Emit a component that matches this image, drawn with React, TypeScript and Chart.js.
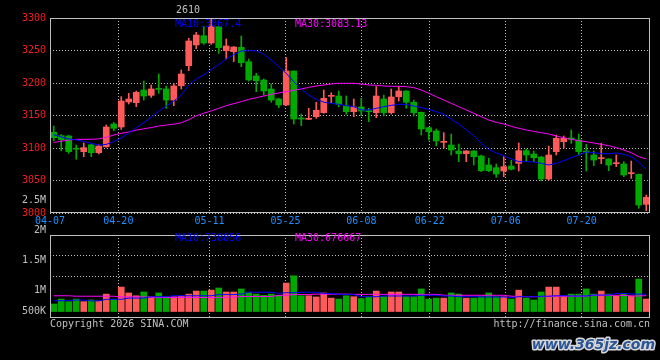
import { useEffect, useRef } from 'react';
import { Chart, registerables } from 'chart.js';

Chart.register(...registerables);

const dates = [
  '04-07','04-08','04-09','04-10','04-13','04-14','04-15','04-16','04-17','04-20',
  '04-21','04-22','04-23','04-24','04-27','04-28','04-29','04-30','05-06','05-07',
  '05-08','05-11','05-12','05-13','05-14','05-15','05-18','05-19','05-20','05-21',
  '05-22','05-25','05-26','05-27','05-28','05-29','06-01','06-02','06-03','06-04',
  '06-05','06-08','06-09','06-10','06-11','06-12','06-15','06-16','06-17','06-18',
  '06-22','06-23','06-24','06-25','06-26','06-29','06-30','07-01','07-02','07-03',
  '07-06','07-07','07-08','07-09','07-10','07-13','07-14','07-15','07-16','07-17',
  '07-20','07-21','07-22','07-23','07-24','07-27','07-28','07-29','07-30','07-31',
];
const tickDates = ['04-07', '04-20', '05-11', '05-25', '06-08', '06-22', '07-06', '07-20'];

const opens = [
  3124.1, 3119.0, 3118.5, 3099.0, 3094.4, 3105.0, 3092.8, 3102.0, 3136.9, 3132.3,
  3170.8, 3169.7, 3189.2, 3181.0, 3190.8, 3190.8, 3173.8, 3195.9, 3226.7, 3258.5,
  3272.8, 3261.5, 3286.7, 3249.7, 3248.2, 3254.9, 3232.8, 3210.8, 3204.6, 3190.8,
  3175.4, 3166.2, 3218.5, 3145.1, 3144.1, 3148.2, 3154.4, 3179.5, 3180.0, 3164.6,
  3155.9, 3163.1, 3156.4, 3154.4, 3175.4, 3154.4, 3179.0, 3187.7, 3170.3, 3154.9,
  3131.3, 3126.2, 3108.7, 3104.6, 3095.4, 3091.3, 3095.4, 3087.7, 3073.8, 3069.7,
  3064.6, 3072.3, 3076.4, 3095.9, 3090.8, 3086.2, 3052.3, 3094.4, 3109.7, 3115.4,
  3112.3, 3094.9, 3089.2, 3083.6, 3083.1, 3075.9, 3075.4, 3060.5, 3059.5, 3013.3,
];
const highs = [
  3133.8, 3120.5, 3119.5, 3104.6, 3107.7, 3106.0, 3105.0, 3135.4, 3139.5, 3179.0,
  3184.1, 3187.7, 3203.1, 3196.9, 3213.8, 3195.4, 3199.5, 3220.0, 3268.7, 3277.9,
  3286.7, 3298.5, 3287.7, 3267.7, 3256.0, 3272.3, 3236.9, 3214.9, 3206.2, 3198.5,
  3176.4, 3239.0, 3218.5, 3152.3, 3161.0, 3170.3, 3189.2, 3185.1, 3187.7, 3180.0,
  3175.4, 3176.4, 3161.0, 3194.4, 3181.5, 3190.8, 3194.4, 3188.2, 3173.8, 3155.4,
  3132.0, 3129.2, 3123.6, 3121.5, 3106.2, 3096.0, 3096.0, 3089.2, 3084.1, 3075.4,
  3086.7, 3081.0, 3107.7, 3098.5, 3095.4, 3087.0, 3103.1, 3120.0, 3118.5, 3127.7,
  3121.5, 3105.6, 3095.4, 3107.2, 3083.6, 3089.2, 3079.0, 3080.0, 3060.0, 3027.7,
];
const lows = [
  3111.0, 3095.9, 3091.8, 3082.6, 3086.7, 3086.7, 3091.0, 3101.0, 3126.7, 3128.7,
  3167.7, 3163.6, 3173.8, 3177.9, 3184.1, 3161.0, 3165.1, 3190.8, 3219.0, 3252.8,
  3259.5, 3259.5, 3245.6, 3237.0, 3232.8, 3225.1, 3203.1, 3186.7, 3181.5, 3170.3,
  3162.1, 3165.1, 3136.9, 3134.4, 3143.6, 3145.6, 3153.4, 3169.7, 3163.6, 3151.8,
  3148.2, 3149.7, 3140.5, 3146.7, 3149.2, 3152.3, 3172.3, 3161.0, 3149.2, 3120.0,
  3112.3, 3103.6, 3099.5, 3089.2, 3079.0, 3079.0, 3073.8, 3063.6, 3063.6, 3054.9,
  3055.9, 3066.2, 3064.6, 3079.0, 3079.0, 3049.2, 3050.8, 3089.2, 3099.5, 3107.2,
  3089.2, 3064.6, 3072.8, 3075.9, 3065.1, 3071.3, 3055.9, 3053.3, 3007.2, 3003.6,
];
const closes = [
  3115.9, 3112.8, 3094.4, 3098.2, 3100.5, 3092.8, 3103.0, 3132.3, 3130.3, 3172.3,
  3175.4, 3185.6, 3180.0, 3190.8, 3190.2, 3173.8, 3195.4, 3213.8, 3264.6, 3273.8,
  3261.5, 3287.7, 3254.4, 3256.9, 3255.4, 3231.3, 3204.6, 3203.6, 3187.7, 3173.8,
  3166.2, 3218.5, 3144.6, 3144.6, 3144.6, 3158.0, 3176.4, 3180.0, 3167.2, 3155.9,
  3163.1, 3156.9, 3155.9, 3180.0, 3154.4, 3178.5, 3187.7, 3170.3, 3154.4, 3129.2,
  3125.1, 3110.8, 3110.3, 3096.9, 3091.3, 3095.4, 3086.7, 3065.1, 3065.1, 3060.0,
  3071.3, 3067.2, 3095.9, 3089.2, 3085.1, 3052.3, 3089.2, 3114.9, 3114.9, 3113.3,
  3094.4, 3093.8, 3081.5, 3084.6, 3073.8, 3077.4, 3058.5, 3062.0, 3012.3, 3024.1,
];
const ma10 = [
  3120.5, 3117.0, 3114.0, 3112.5, 3110.0, 3107.0, 3104.6, 3105.5, 3110.0, 3115.5,
  3123.0, 3131.0, 3139.0, 3148.0, 3156.5, 3164.6, 3172.3, 3181.5, 3196.9, 3206.2,
  3212.3, 3221.0, 3228.5, 3236.9, 3243.5, 3249.2, 3249.7, 3249.7, 3244.1, 3235.4,
  3225.1, 3214.9, 3202.0, 3190.8, 3181.5, 3175.0, 3170.5, 3168.7, 3167.2, 3165.1,
  3163.6, 3158.5, 3158.5, 3161.0, 3163.6, 3165.6, 3167.2, 3167.2, 3164.6, 3162.1,
  3159.5, 3155.9, 3151.8, 3144.1, 3136.9, 3127.7, 3119.0, 3107.2, 3097.9, 3092.3,
  3088.2, 3083.1, 3079.0, 3079.0, 3078.5, 3076.4, 3073.8, 3076.4, 3080.5, 3085.1,
  3089.2, 3093.8, 3092.8, 3091.3, 3091.3, 3092.3, 3090.3, 3086.7, 3077.9, 3067.4,
];
const ma30 = [
  3108.5, 3110.5, 3112.3, 3113.3, 3113.3, 3113.5, 3114.0, 3116.5, 3120.0, 3122.6,
  3124.6, 3127.5, 3129.5, 3131.5, 3133.8, 3135.4, 3136.6, 3138.8, 3143.6, 3149.5,
  3153.5, 3157.0, 3161.0, 3165.1, 3168.2, 3171.3, 3174.9, 3177.4, 3180.0, 3182.6,
  3184.6, 3186.7, 3188.7, 3190.8, 3193.3, 3195.4, 3196.9, 3198.5, 3199.5, 3199.5,
  3199.5, 3198.5, 3196.9, 3196.4, 3195.4, 3194.9, 3194.9, 3194.4, 3192.8, 3189.2,
  3184.1, 3179.0, 3173.8, 3168.7, 3163.6, 3158.5, 3153.3, 3148.2, 3143.1, 3139.5,
  3136.9, 3133.3, 3130.3, 3127.7, 3125.6, 3123.6, 3121.5, 3118.5, 3115.9, 3113.3,
  3111.3, 3109.7, 3107.7, 3105.6, 3103.6, 3100.5, 3096.9, 3092.8, 3086.7, 3083.13,
];
const volumes = [
  320000, 530000, 420000, 530000, 420000, 490000, 450000, 740000, 520000, 1040000,
  790000, 670000, 830000, 630000, 790000, 630000, 630000, 660000, 740000, 870000,
  870000, 910000, 1000000, 830000, 830000, 960000, 820000, 740000, 690000, 740000,
  690000, 1210000, 1520000, 670000, 670000, 620000, 790000, 570000, 530000, 670000,
  630000, 550000, 630000, 870000, 630000, 830000, 830000, 630000, 630000, 960000,
  530000, 570000, 570000, 790000, 740000, 570000, 570000, 630000, 790000, 630000,
  630000, 530000, 910000, 570000, 490000, 830000, 1040000, 1040000, 660000, 740000,
  740000, 960000, 740000, 870000, 740000, 660000, 740000, 660000, 1380000, 530000,
];
const volMa10 = [
  460000, 460000, 460000, 490000, 490000, 450000, 450000, 520000, 520000, 520000,
  570000, 570000, 570000, 630000, 630000, 630000, 670000, 670000, 670000, 670000,
  670000, 670000, 720000, 720000, 720000, 740000, 820000, 820000, 820000, 820000,
  770000, 800000, 800000, 820000, 820000, 820000, 770000, 770000, 730000, 730000,
  720000, 630000, 630000, 630000, 660000, 660000, 660000, 660000, 660000, 690000,
  690000, 690000, 660000, 660000, 630000, 630000, 630000, 620000, 620000, 620000,
  620000, 590000, 630000, 630000, 630000, 650000, 650000, 670000, 670000, 660000,
  660000, 660000, 700000, 700000, 700000, 770000, 770000, 740000, 740000, 738856,
];
const volMa30 = [
  670000, 670000, 670000, 650000, 650000, 650000, 650000, 650000, 650000, 620000,
  620000, 620000, 620000, 600000, 600000, 600000, 600000, 600000, 600000, 600000,
  590000, 590000, 590000, 610000, 610000, 640000, 640000, 640000, 640000, 640000,
  690000, 690000, 720000, 720000, 720000, 740000, 740000, 740000, 740000, 740000,
  730000, 730000, 730000, 730000, 730000, 730000, 730000, 730000, 730000, 730000,
  730000, 730000, 690000, 690000, 690000, 690000, 690000, 690000, 690000, 690000,
  690000, 650000, 650000, 630000, 630000, 630000, 650000, 650000, 650000, 650000,
  650000, 650000, 690000, 690000, 690000, 690000, 690000, 660000, 660000, 676667,
];
const volTickValues = [2500000, 2000000, 1500000, 1000000, 500000];
const volTickLabels = ['2.5M', '2M', '1.5M', '1M', '500K'];
const titleText = '2610';
const copyrightText = 'Copyright 2026 SINA.COM';
const sourceText = 'http://finance.sina.com.cn';
const watermarkText = 'www.365jz.com';

const UP = '#ff5a5a';
const DOWN = '#00a800';
const BLUE = '#0000ff';
const MAGENTA = '#ff00ff';
const GRID = '#bdbdbd';
const FRAME = '#c0c0c0';
const GREY = '#c0c0c0';
const PRICE_RED = '#ee2020';
const DATE_BLUE = '#1e90ff';
const FONT = '"DejaVu Sans Mono", "Liberation Mono", monospace';

const idx = dates.map((_, i) => i);
const candleColors = idx.map((i) => (closes[i] >= opens[i] ? UP : DOWN));
const tickIdx = tickDates.map((d) => dates.indexOf(d));

const dateAxis = (showLabels: boolean, height: number) => ({
  type: 'linear',
  position: 'bottom',
  min: 0,
  max: dates.length - 1,
  offset: false,
  afterBuildTicks: (s: any) => {
    s.ticks = tickIdx.map((v) => ({ value: v }));
  },
  afterFit: (s: any) => {
    s.height = height;
  },
  ticks: {
    display: showLabels,
    autoSkip: false,
    maxRotation: 0,
    padding: 2,
    color: DATE_BLUE,
    font: { family: FONT, size: 10 },
    callback: (v: any) => dates[Math.round(Number(v))] ?? '',
  },
  grid: { display: true, color: GRID, lineWidth: 1, drawTicks: false, offset: false },
  border: { display: false, dash: [1, 2] },
});

const hiddenX = { type: 'linear', display: false, min: -0.5, max: dates.length - 0.5, offset: false };

const framePlugin = {
  id: 'frame',
  afterDraw(chart: any) {
    const { ctx, chartArea } = chart;
    ctx.save();
    ctx.strokeStyle = FRAME;
    ctx.lineWidth = 1;
    const l = Math.round(chartArea.left) + 0.5;
    const r = Math.round(chartArea.right) - 0.5;
    const t = Math.round(chartArea.top) + 0.5;
    const b = Math.round(chartArea.bottom) - 0.5;
    ctx.strokeRect(l, t, r - l, b - t);
    ctx.restore();
  },
};

const priceText = {
  id: 'priceText',
  afterDraw(chart: any) {
    const { ctx } = chart;
    ctx.save();
    ctx.font = `10px ${FONT}`;
    ctx.textBaseline = 'middle';
    ctx.textAlign = 'center';
    ctx.fillStyle = GREY;
    ctx.fillText(titleText, 188, 10);
    ctx.textAlign = 'left';
    ctx.fillStyle = BLUE;
    ctx.fillText(`MA10:${ma10[ma10.length - 1]}`, 175, 24);
    ctx.fillStyle = MAGENTA;
    ctx.fillText(`MA30:${ma30[ma30.length - 1]}`, 295, 24);
    ctx.restore();
  },
};

const volumeText = {
  id: 'volumeText',
  afterDraw(chart: any) {
    const { ctx, chartArea } = chart;
    const yl = chart.scales.yl;
    ctx.save();
    ctx.font = `10px ${FONT}`;
    ctx.textBaseline = 'middle';
    ctx.textAlign = 'right';
    ctx.fillStyle = GREY;
    volTickValues.forEach((v, k) => {
      const y = Math.min(yl.getPixelForValue(v), chartArea.bottom - 7);
      ctx.fillText(volTickLabels[k], 46, y);
    });
    ctx.textAlign = 'left';
    ctx.fillStyle = BLUE;
    ctx.fillText(`MA10:${volMa10[volMa10.length - 1]}`, 175, 238.5);
    ctx.fillStyle = MAGENTA;
    ctx.fillText(`MA30:${volMa30[volMa30.length - 1]}`, 295, 238.5);
    ctx.fillStyle = GREY;
    ctx.fillText(copyrightText, 50, 324);
    ctx.textAlign = 'right';
    ctx.fillText(sourceText, 650, 324);
    ctx.font = 'bold italic 14px "DejaVu Sans", sans-serif';
    ctx.lineWidth = 3;
    ctx.strokeStyle = '#d8d8d8';
    ctx.lineJoin = 'round';
    ctx.strokeText(watermarkText, 655, 345);
    ctx.fillStyle = '#2b5597';
    ctx.fillText(watermarkText, 655, 345);
    ctx.restore();
  },
};

const commonOptions = {
  responsive: false,
  animation: false,
  events: [],
  plugins: { legend: { display: false }, tooltip: { enabled: false } },
};

export default function App() {
  const priceRef = useRef<HTMLCanvasElement>(null);
  const volRef = useRef<HTMLCanvasElement>(null);

  useEffect(() => {
    const priceChart = new Chart(priceRef.current as HTMLCanvasElement, {
      type: 'bar',
      data: {
        datasets: [
          {
            type: 'line',
            label: 'MA10',
            data: idx.map((i) => ({ x: i, y: ma10[i] })),
            borderColor: BLUE,
            borderWidth: 1,
            pointRadius: 0,
            xAxisID: 'x',
            yAxisID: 'y',
          },
          {
            type: 'line',
            label: 'MA30',
            data: idx.map((i) => ({ x: i, y: ma30[i] })),
            borderColor: MAGENTA,
            borderWidth: 1,
            pointRadius: 0,
            xAxisID: 'x',
            yAxisID: 'y',
          },
          {
            type: 'bar',
            label: 'body',
            data: idx.map((i) => ({ x: i, y: [Math.min(opens[i], closes[i]), Math.max(opens[i], closes[i])] })),
            backgroundColor: candleColors,
            borderWidth: 0,
            barThickness: 6,
            minBarLength: 1,
            grouped: false,
            xAxisID: 'x',
            yAxisID: 'y',
          },
          {
            type: 'bar',
            label: 'wick',
            data: idx.map((i) => ({ x: i, y: [lows[i], highs[i]] })),
            backgroundColor: candleColors,
            borderWidth: 0,
            barThickness: 1,
            grouped: false,
            xAxisID: 'x',
            yAxisID: 'y',
          },
        ],
      } as any,
      options: {
        ...commonOptions,
        layout: { padding: { left: 0, right: 10, top: 18, bottom: 0 } },
        scales: {
          x: hiddenX,
          xd: dateAxis(true, 17),
          y: {
            type: 'linear',
            position: 'left',
            min: 3000,
            max: 3300,
            afterFit: (s: any) => {
              s.width = 50;
            },
            ticks: {
              stepSize: 50,
              color: PRICE_RED,
              padding: 4,
              font: { family: FONT, size: 10 },
              callback: (v: any) => String(v),
            },
            grid: { color: GRID, lineWidth: 1, drawTicks: false },
            border: { display: false, dash: [1, 2] },
          },
        },
      } as any,
      plugins: [framePlugin, priceText],
    });

    const volChart = new Chart(volRef.current as HTMLCanvasElement, {
      type: 'bar',
      data: {
        datasets: [
          {
            type: 'line',
            label: 'VMA10',
            data: idx.map((i) => ({ x: i, y: volMa10[i] })),
            borderColor: BLUE,
            borderWidth: 1,
            pointRadius: 0,
            xAxisID: 'x',
            yAxisID: 'y',
          },
          {
            type: 'line',
            label: 'VMA30',
            data: idx.map((i) => ({ x: i, y: volMa30[i] })),
            borderColor: MAGENTA,
            borderWidth: 1,
            pointRadius: 0,
            xAxisID: 'x',
            yAxisID: 'y',
          },
          {
            type: 'bar',
            label: 'volume',
            data: idx.map((i) => ({ x: i, y: volumes[i] })),
            backgroundColor: candleColors,
            borderWidth: 0,
            barThickness: 6,
            grouped: false,
            xAxisID: 'x',
            yAxisID: 'y',
          },
        ],
      } as any,
      options: {
        ...commonOptions,
        layout: { padding: { left: 0, right: 10, top: 235, bottom: 42 } },
        scales: {
          x: hiddenX,
          xd: dateAxis(false, 0),
          y: { type: 'linear', display: false, min: -276000, max: 3255000 },
          yl: { type: 'linear', display: false, position: 'left', min: 545000, max: 1928333 },
          yg: {
            type: 'linear',
            position: 'left',
            min: 0,
            max: 4,
            afterBuildTicks: (s: any) => {
              s.ticks = [{ value: 2 }, { value: 3 }];
            },
            afterFit: (s: any) => {
              s.width = 50;
            },
            ticks: { display: false },
            grid: { color: GRID, lineWidth: 1, drawTicks: false },
            border: { display: false, dash: [1, 2] },
          },
        },
      } as any,
      plugins: [framePlugin, volumeText],
    });

    return () => {
      priceChart.destroy();
      volChart.destroy();
    };
  }, []);

  return (
    <div style={{ position: 'fixed', left: 0, top: 0, width: 660, height: 360, background: '#000' }}>
      <canvas
        ref={priceRef}
        width={660}
        height={230}
        style={{ position: 'absolute', left: 0, top: 0, width: 660, height: 230 }}
      />
      <canvas
        ref={volRef}
        width={660}
        height={360}
        style={{ position: 'absolute', left: 0, top: 0, width: 660, height: 360 }}
      />
    </div>
  );
}
